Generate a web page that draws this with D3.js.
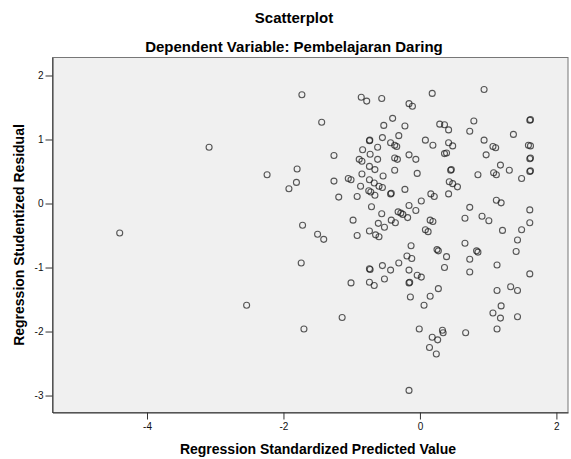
<!DOCTYPE html>
<html>
<head>
<meta charset="utf-8">
<script src="https://cdn.jsdelivr.net/npm/d3@7"></script>
<style>
  body { margin: 0; background: #fff; }
  svg { display: block; }
</style>
</head>
<body>
<script>
// Regression Standardized Predicted Value (x) and Studentized Residual (y)
const predicted = [
  -4.40, -3.09, -2.54,
  -1.73, -0.86, -0.78, -0.56, -0.16, -0.11, -1.44, -0.40, -0.53, -0.22,
  -0.74, -0.735, -0.55, -0.31, -0.43, -0.37, -0.34, -0.84, -0.62, -1.26,
  -0.73, -0.89, -0.85, -0.62, -0.37, -0.33, -0.16, -1.80, -2.24, -0.74,
  -0.66, -0.37, -0.85, -0.54, -1.81, -1.26, -1.05, -1.01, -0.74, -0.67,
  -1.92, -0.87, -0.60, -0.55, -0.22,
  0.18, 0.94, 0.29, 0.36, 0.42, 0.79, 0.73, 1.61, 1.62, 1.37,
  0.08, 0.19, 0.42, 0.48, 0.94, 1.07, 1.11, 1.59, 1.62, 0.36,
  0.39, 0.97, 1.61, 1.62, -0.06, 0.45, 0.46, 1.18, 1.31, 1.08,
  1.12, 1.61, 1.62, -0.04, 0.85, 1.49, 0.43, 0.48, 0.55,
  -1.19, -0.92, -0.75, -0.72, -0.66, -0.43, -0.42, -0.71, -0.98, -0.56,
  -0.32, -0.28, -0.25, -0.16, -0.18, -1.72, -1.50, -1.41, -0.92, -0.74,
  -0.65, -0.60, -0.61, -0.52, -0.42, -0.36, -1.74, -1.01, -0.74, -0.73,
  -0.55, -0.43, -0.31, -0.19, -0.12, -0.13, -0.16, -0.74, -0.67, -0.52, -0.16, -0.15, -0.14,
  0.02, 0.16, 0.21, 0.42, -0.06, 0.15, 0.19, 0.08, 0.12, 0.73,
  0.66, 0.91, 1.01, 1.12, 1.19, 1.61, 1.61, 1.21, 1.49, 1.43,
  1.41, 0.25, 0.27, 0.39, 0.36, 0.66, 0.73, 0.83, 0.85, 0.73,
  1.13, 1.61, -0.04, 0.02, 0.27, 0.15, 1.13, 1.33, 1.43,
  -1.14, -1.70, -0.16, 0.06, 1.19, 1.07, 1.18, 1.43, 1.13, -0.01,
  0.33, 0.34, 0.18, 0.26, 0.14, 0.24, 0.67
]
const residual = [
  -0.46, 0.88, -1.59,
  1.70, 1.66, 1.60, 1.64, 1.56, 1.52, 1.27, 1.33, 1.22, 1.21,
  0.98, 0.99, 1.03, 1.06, 0.95, 0.91, 0.89, 0.84, 0.88, 0.75,
  0.77, 0.69, 0.66, 0.69, 0.71, 0.69, 0.76, 0.54, 0.45, 0.58,
  0.53, 0.52, 0.46, 0.43, 0.33, 0.35, 0.39, 0.37, 0.37, 0.32,
  0.23, 0.27, 0.27, 0.25, 0.22,
  1.72, 1.78, 1.24, 1.23, 1.15, 1.29, 1.13, 1.30, 1.31, 1.08,
  0.99, 0.91, 0.95, 0.90, 0.99, 0.89, 0.87, 0.91, 0.90, 0.78,
  0.79, 0.76, 0.70, 0.71, 0.69, 0.52, 0.53, 0.60, 0.52, 0.48,
  0.45, 0.50, 0.51, 0.47, 0.45, 0.39, 0.34, 0.31, 0.26,
  0.10, 0.11, 0.20, 0.18, 0.13, 0.15, 0.16, -0.05, -0.26, -0.16,
  -0.13, -0.15, -0.17, -0.03, -0.22, -0.34, -0.48, -0.56, -0.50, -0.43,
  -0.49, -0.52, -0.31, -0.37, -0.26, -0.30, -0.93, -1.24, -1.02, -1.03,
  -0.97, -1.04, -0.93, -0.82, -0.86, -0.66, -1.04, -1.23, -1.28, -1.18, -1.24, -1.23, -1.46,
  0.04, 0.15, 0.11, 0.15, -0.11, -0.26, -0.28, -0.41, -0.44, -0.06,
  -0.23, -0.20, -0.27, 0.05, 0.01, -0.10, -0.30, -0.42, -0.41, -0.57,
  -0.75, -0.72, -0.74, -0.83, -1.00, -0.62, -0.87, -0.74, -0.76, -1.07,
  -0.96, -1.10, -1.12, -1.15, -1.33, -1.45, -1.36, -1.30, -1.36,
  -1.78, -1.96, -2.92, -1.59, -1.60, -1.71, -1.79, -1.77, -1.96, -1.96,
  -1.98, -2.02, -2.09, -2.13, -2.25, -2.35, -2.02
]
const xTicks = [-4, -2, 0, 2]
const yTicks = [2, 1, 0, -1, -2, -3]
const xDomain = [-5.385, 2.17]
const yDomain = [-3.265, 2.281]

const title = "Scatterplot"
const subtitle = "Dependent Variable: Pembelajaran Daring"
const xLabel = "Regression Standardized Predicted Value"
const yLabel = "Regression Studentized Residual"

const width = 571
const height = 459
const marginTop = 57.5
const marginRight = 3
const marginBottom = 46.5
const marginLeft = 52.5
const font = "Arial, 'Liberation Sans', sans-serif"

const x = d3.scaleLinear(xDomain, [marginLeft, width - marginRight])
const y = d3.scaleLinear(yDomain, [height - marginBottom, marginTop])

// plain hyphen minus, integers only (like SPSS)
const tickFormat = d => String(d)

const svg = d3.select("body").append("svg")
  .attr("width", width)
  .attr("height", height)
  .attr("viewBox", [0, 0, width, height])

// plot frame
svg.append("rect")
  .attr("x", marginLeft)
  .attr("y", marginTop)
  .attr("width", width - marginRight - marginLeft)
  .attr("height", height - marginBottom - marginTop)
  .attr("fill", "#f0f0f0")
  .attr("stroke", "#777")
  .attr("stroke-width", 1)

// axes
svg.append("g")
  .attr("transform", `translate(0,${height - marginBottom})`)
  .call(d3.axisBottom(x).tickValues(xTicks).tickFormat(tickFormat).tickSize(7).tickPadding(3).tickSizeOuter(0))
  .call(g => g.select(".domain").attr("stroke", "#333"))
  .call(g => g.selectAll(".tick line").attr("stroke", "#333"))
  .call(g => g.selectAll(".tick text").attr("font-family", font).attr("font-size", 10).attr("fill", "#111"))

svg.append("g")
  .attr("transform", `translate(${marginLeft},0)`)
  .call(d3.axisLeft(y).tickValues(yTicks).tickFormat(tickFormat).tickSize(7).tickPadding(2).tickSizeOuter(0))
  .call(g => g.select(".domain").attr("stroke", "#333"))
  .call(g => g.selectAll(".tick line").attr("stroke", "#333"))
  .call(g => g.selectAll(".tick text").attr("font-family", font).attr("font-size", 10).attr("fill", "#111"))

// points
svg.append("g")
  .attr("fill", "none")
  .attr("stroke", "#1a1a1a")
  .attr("stroke-opacity", 0.72)
  .attr("stroke-width", 1.1)
  .selectAll("circle")
  .data(d3.range(predicted.length))
  .join("circle")
  .attr("cx", i => x(predicted[i]))
  .attr("cy", i => y(residual[i]))
  .attr("r", 3)

// titles
svg.append("text")
  .attr("x", 294)
  .attr("y", 23)
  .attr("text-anchor", "middle")
  .attr("font-family", font)
  .attr("font-weight", "bold")
  .attr("font-size", 15)
  .text(title)

svg.append("text")
  .attr("x", 294)
  .attr("y", 51.5)
  .attr("text-anchor", "middle")
  .attr("font-family", font)
  .attr("font-weight", "bold")
  .attr("font-size", 15)
  .text(subtitle)

svg.append("text")
  .attr("x", 318)
  .attr("y", 453.5)
  .attr("text-anchor", "middle")
  .attr("font-family", font)
  .attr("font-weight", "bold")
  .attr("font-size", 14)
  .text(xLabel)

svg.append("text")
  .attr("transform", `translate(23.5,${(marginTop + height - marginBottom) / 2}) rotate(-90)`)
  .attr("text-anchor", "middle")
  .attr("font-family", font)
  .attr("font-weight", "bold")
  .attr("font-size", 14)
  .text(yLabel)
</script>
</body>
</html>
